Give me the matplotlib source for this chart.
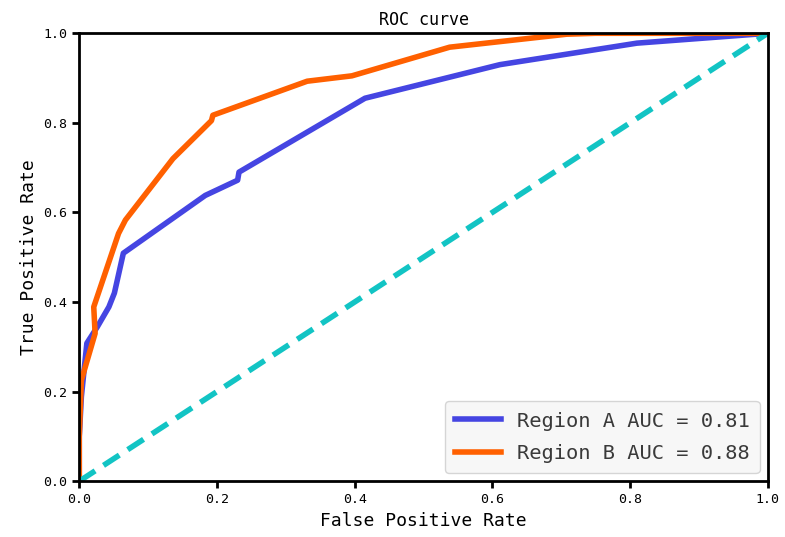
import matplotlib
matplotlib.use("Agg")
import matplotlib.pyplot as plt

plt.rcParams['font.family'] = ['DejaVu Sans Mono']

# ROC points
fpr_a = [0.0, 0.0, 0.003, 0.011, 0.026, 0.043, 0.051, 0.064, 0.183, 0.230, 0.232, 0.415, 0.611, 0.810, 1.0]
tpr_a = [0.0, 0.10, 0.188, 0.308, 0.344, 0.389, 0.420, 0.509, 0.638, 0.672, 0.690, 0.855, 0.930, 0.978, 1.0]

fpr_b = [0.0, 0.0, 0.003, 0.023, 0.021, 0.057, 0.067, 0.136, 0.192, 0.194, 0.331, 0.396, 0.538, 0.708, 0.75, 1.0]
tpr_b = [0.0, 0.10, 0.225, 0.330, 0.389, 0.553, 0.583, 0.720, 0.805, 0.817, 0.893, 0.905, 0.969, 0.998, 1.0, 1.0]

auc_a = 0.81
auc_b = 0.88

fig, ax = plt.subplots(figsize=(7.85, 5.37), dpi=100)
fig.subplots_adjust(left=0.101, right=0.978, top=0.938, bottom=0.104)

ax.plot(fpr_a, tpr_a, color="#4545e2", lw=4, label=f"Region A AUC = {auc_a:.2f}")
ax.plot(fpr_b, tpr_b, color="#ff6000", lw=4, label=f"Region B AUC = {auc_b:.2f}")
ax.plot([0, 1], [0, 1], color="#12c4c4", lw=4, linestyle=(0, (3.4, 1.8)))

ax.set_xlim(0, 1)
ax.set_ylim(0, 1)
for s in ax.spines.values():
    s.set_linewidth(2)
ax.tick_params(width=2, length=5, labelsize=9.5)
ax.set_title("ROC curve", fontsize=12)
ax.set_xlabel("False Positive Rate", fontsize=13)
ax.set_ylabel("True Positive Rate", fontsize=13)

leg = ax.legend(loc="lower right", fontsize=14.7, handlelength=2.25, handletextpad=0.75,
                labelspacing=0.65, borderpad=0.5, framealpha=0.8,
                labelcolor="#3a3a3a", borderaxespad=0.4)
leg.get_frame().set_facecolor("#f5f5f5")

fig.savefig("out.png", dpi=100)
